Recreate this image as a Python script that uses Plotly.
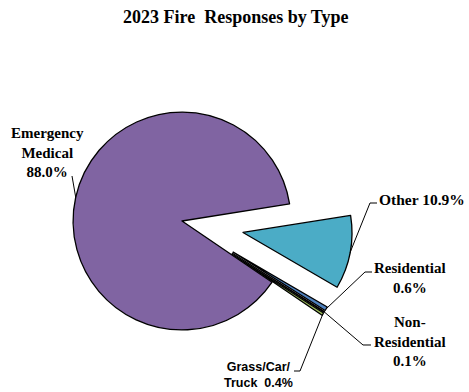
import math
import plotly.graph_objects as go

# ---- data -------------------------------------------------------------
categories = ["Residential", "Non-Residential", "Grass/Car/Truck", "Emergency Medical", "Other"]
shares = [0.6, 0.1, 0.4, 88.0, 10.9]
label_texts = [
    "Residential<br>0.6%",
    "Non-<br>Residential<br>0.1%",
    "Grass/Car/<br>Truck  0.4%",
    "Emergency<br>Medical<br>88.0%",
    "Other 10.9%",
]
colors = ["#4F81BD", "#C0504D", "#9BBB59", "#8064A2", "#4BACC6"]
pulls = [0.55, 0.55, 0.55, 0.0, 0.57]

# ---- layout constants --------------------------------------------------
W, H = 469, 392
CX, CY = 182.0, 221.0          # pie centre in pixels
START = 120.24                 # first slice edge, degrees clockwise from 12 o'clock

half = H - CY
dom_y = [0.0, 2 * half / H]
dom_x = [(CX - half * 1.03) / W, (CX + half * 1.03) / W]
R = half / (1 + max(pulls))    # radius plotly uses once pulls are accounted for
total = sum(shares)


def to_paper(x, y):
    return x / W, 1 - y / H


def arc_mid(i):
    before = sum(shares[:i])
    bearing = START + 360 * (before + shares[i] / 2) / total
    t = math.radians(bearing)
    d = R * (1 + pulls[i])
    return CX + d * math.sin(t), CY - d * math.cos(t)


fig = go.Figure(
    go.Pie(
        labels=categories,
        values=shares,
        sort=False,
        direction="clockwise",
        rotation=START,
        pull=pulls,
        marker=dict(colors=colors, line=dict(color="#000000", width=1.3)),
        textinfo="none",
        hoverinfo="label+percent",
        showlegend=False,
        domain=dict(x=dom_x, y=dom_y),
    )
)

# label placement: (text centre x, text centre y, font family, size, leader elbow points)
serif = "Liberation Serif"
sans = "Liberation Sans"
label_layout = [
    (410, 278, serif, 15, [(365, 272), (372, 272)]),
    (410, 341, serif, 15, [(363, 345), (371, 345)]),
    (258, 375, sans, 12.5, [(300, 371), (294, 371)]),
    (47, 152, serif, 15, [(72, 176)]),
    (422, 199, serif, 15.5, [(370, 203), (377, 203)]),
]

shapes = []
annotations = []
for i, (tx, ty, fam, size, elbow) in enumerate(label_layout):
    pts = [arc_mid(i)] + elbow
    ppts = [to_paper(x, y) for x, y in pts]
    path = "M " + " L ".join(f"{x:.5f} {y:.5f}" for x, y in ppts)
    shapes.append(dict(type="path", xref="paper", yref="paper", path=path,
                       line=dict(color="#000000", width=1)))
    px, py = to_paper(tx, ty)
    annotations.append(dict(
        x=px, y=py, xref="paper", yref="paper", xanchor="center", yanchor="middle",
        text=f"<b>{label_texts[i]}</b>", showarrow=False, align="center",
        font=dict(family=fam, size=size, color="#000000"),
    ))

tx, ty = to_paper(236, 17)
annotations.append(dict(
    x=tx, y=ty, xref="paper", yref="paper", xanchor="center", yanchor="middle",
    text="<b>2023 Fire  Responses by Type</b>", showarrow=False,
    font=dict(family=serif, size=18, color="#000000"),
))

fig.update_layout(
    width=W, height=H,
    margin=dict(l=0, r=0, t=0, b=0),
    paper_bgcolor="#FFFFFF",
    plot_bgcolor="#FFFFFF",
    shapes=shapes,
    annotations=annotations,
)

fig.write_html("out.html")
